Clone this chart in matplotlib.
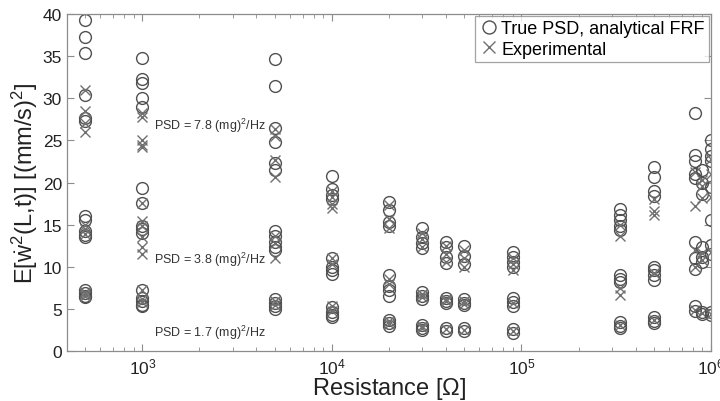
import matplotlib
matplotlib.use("Agg")
import matplotlib.pyplot as plt
from matplotlib.ticker import LogLocator, NullFormatter

plt.rcParams['font.family'] = ['Liberation Sans', 'DejaVu Sans']
plt.rcParams['mathtext.default'] = 'regular'

# load resistances [Ohm]
resistance = [500, 1000, 5000, 1e4, 2e4, 3e4, 4e4, 5e4, 9e4, 3.3e5, 5e5, 8.2e5, 9e5, 1e6]

# true PSD with analytical FRF, per resistance (all three PSD levels)
true_psd = [
    [39.3, 37.3, 35.4, 30.4, 27.7, 27.3, 16.0, 15.5, 14.2, 13.8, 13.5, 7.2, 6.9, 6.6, 6.4],
    [34.8, 32.3, 31.8, 30.0, 29.0, 19.3, 17.6, 14.9, 14.5, 14.0, 7.3, 6.3, 6.0, 5.5, 5.3],
    [34.7, 31.5, 26.5, 24.8, 22.3, 21.5, 14.2, 13.6, 13.0, 12.4, 12.0, 6.2, 5.7, 5.3, 5.0],
    [20.8, 19.2, 18.5, 18.0, 11.0, 10.0, 9.6, 9.2, 5.2, 4.6, 4.3, 4.0],
    [17.7, 16.7, 15.3, 14.8, 9.0, 7.7, 7.2, 6.6, 3.7, 3.3, 3.0],
    [14.6, 13.5, 12.8, 12.2, 7.0, 6.6, 6.2, 3.1, 2.8, 2.5],
    [13.0, 12.3, 11.2, 10.5, 6.3, 6.0, 5.7, 2.7, 2.4],
    [12.5, 11.3, 10.3, 6.2, 5.7, 5.5, 2.7, 2.4],
    [11.8, 11.2, 10.6, 10.0, 6.3, 5.8, 5.4, 2.6, 2.2],
    [16.8, 16.2, 15.5, 14.8, 14.4, 9.0, 8.6, 8.2, 3.4, 3.0, 2.8],
    [21.8, 20.7, 19.0, 18.4, 10.0, 9.6, 9.0, 8.4, 4.0, 3.6, 3.3],
    [28.3, 23.3, 22.5, 21.0, 20.5, 13.0, 11.0, 9.8, 5.3, 4.8],
    [21.5, 20.0, 18.6, 12.3, 11.2, 10.6, 4.6, 4.4],
    [25.0, 24.0, 23.2, 22.5, 19.5, 15.6, 12.6, 11.5, 4.6, 4.3],
]

# experimental values, per resistance
exp_psd = [
    [31.0, 28.5, 27.0, 26.0, 15.0, 14.5, 13.9, 7.0, 6.8, 6.5],
    [28.2, 27.8, 25.1, 24.5, 24.2, 17.6, 15.4, 14.9, 13.5, 12.3, 11.5, 7.2, 6.2, 5.8],
    [26.4, 25.5, 22.7, 20.6, 13.6, 12.8, 11.0, 6.0, 5.5],
    [19.0, 18.3, 17.5, 17.0, 11.0, 10.3, 5.3, 4.8],
    [17.3, 15.7, 14.6, 8.6, 8.0, 3.6, 3.2],
    [14.0, 13.3, 12.3, 6.8, 6.4, 3.0, 2.7],
    [12.5, 11.5, 10.6, 6.2, 5.9, 2.6],
    [12.0, 11.0, 10.0, 6.0, 5.6, 2.5],
    [11.0, 10.3, 9.6, 5.7, 2.4],
    [15.0, 13.6, 7.5, 6.7, 3.1],
    [18.0, 16.6, 16.2, 9.3, 3.7],
    [21.3, 17.2, 12.0, 10.0, 4.9],
    [20.3, 19.6, 18.2, 11.6, 10.8, 4.5],
    [22.8, 21.0, 18.3, 11.8, 4.4],
]

psd_labels = ['PSD = 7.8 (mg)$^2$/Hz', 'PSD = 3.8 (mg)$^2$/Hz', 'PSD = 1.7 (mg)$^2$/Hz']
psd_label_y = [26.8, 11.0, 2.3]

fig = plt.figure(figsize=(7.2, 4.02), dpi=100)
ax = fig.add_axes([0.093, 0.124, 0.8945, 0.839])

first = True
for r, tv, ev in zip(resistance, true_psd, exp_psd):
    ax.plot([r] * len(tv), tv, 'o', mfc='none', mec='#505050', ms=8.5, mew=1.0,
            label='True PSD, analytical FRF' if first else None)
    ax.plot([r] * len(ev), ev, 'x', color='#707070', ms=7.5, mew=1.0,
            label='Experimental' if first else None)
    first = False

for txt, yy in zip(psd_labels, psd_label_y):
    ax.text(1150, yy, txt, fontsize=9, color='#333333', va='center')

ax.set_xscale('log')
ax.set_xlim(400, 1e6)
ax.set_ylim(0, 40)
ax.set_yticks([0, 5, 10, 15, 20, 25, 30, 35, 40])
ax.xaxis.set_major_locator(LogLocator(base=10, numticks=10))
ax.xaxis.set_minor_locator(LogLocator(base=10, subs=range(2, 10), numticks=20))
ax.xaxis.set_minor_formatter(NullFormatter())

for s in ax.spines.values():
    s.set_color('#8c8c8c')
    s.set_linewidth(0.9)
ax.tick_params(which='both', direction='in', top=True, right=True, color='#8c8c8c',
               labelsize=12.5, labelcolor='#222222')
ax.tick_params(which='major', length=5)
ax.tick_params(which='minor', length=3)
ax.tick_params(axis='x', pad=4)

ax.set_xlabel('Resistance [$\\Omega$]', fontsize=17, color='#222222', labelpad=-1.5)
ax.set_ylabel('E[$\\dot{w}^2$(L,t)] [(mm/s)$^2$]', fontsize=17, color='#222222', labelpad=2)

leg = ax.legend(loc='upper right', fontsize=13, frameon=True, fancybox=False,
                borderaxespad=0.1, handletextpad=0.2, handlelength=1.0,
                borderpad=0.25, labelspacing=0.2, markerscale=1.1)
leg.get_frame().set_edgecolor('#8c8c8c')
leg.get_frame().set_linewidth(0.9)

fig.savefig('out.png', dpi=100)
